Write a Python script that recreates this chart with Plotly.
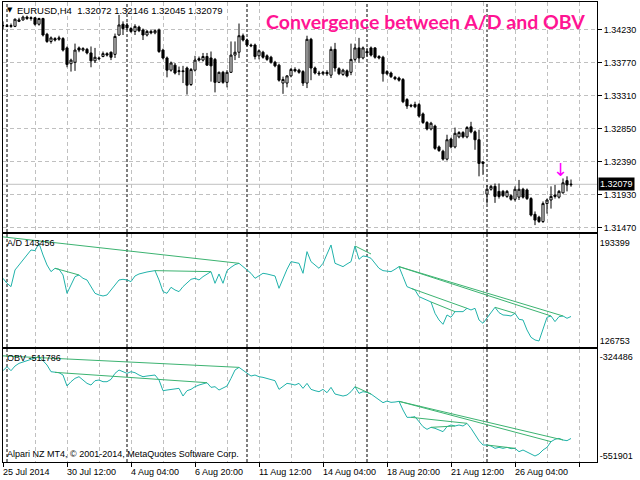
import plotly.graph_objects as go

# EURUSD H4 candles, one entry per bar (bar 0 = left edge of the chart)
opens = [
    1.3429, 1.3429, 1.3428, 1.3428, 1.3435, 1.3437, 1.3441, 1.3439, 1.3440, 1.3431,
    1.3439, 1.3417, 1.3407, 1.3411, 1.3410, 1.3411, 1.3398, 1.3376, 1.3378, 1.3398,
    1.3395, 1.3396, 1.3391, 1.3380, 1.3384, 1.3386, 1.3390, 1.3392, 1.3389, 1.3416,
    1.3431, 1.3430, 1.3425, 1.3421, 1.3427, 1.3423, 1.3416, 1.3421, 1.3419, 1.3423,
    1.3395, 1.3384, 1.3367, 1.3374, 1.3365, 1.3366, 1.3370, 1.3347, 1.3367, 1.3383,
    1.3381, 1.3386, 1.3384, 1.3382, 1.3350, 1.3364, 1.3350, 1.3364, 1.3388, 1.3392,
    1.3415, 1.3409, 1.3402, 1.3402, 1.3387, 1.3392, 1.3387, 1.3385, 1.3378, 1.3374,
    1.3349, 1.3349, 1.3359, 1.3368, 1.3367, 1.3365, 1.3349, 1.3410, 1.3370, 1.3363,
    1.3362, 1.3364, 1.3360, 1.3396, 1.3369, 1.3361, 1.3366, 1.3364, 1.3382, 1.3398,
    1.3384, 1.3393, 1.3398, 1.3398, 1.3386, 1.3385, 1.3365, 1.3363, 1.3357, 1.3356,
    1.3354, 1.3326, 1.3318, 1.3319, 1.3319, 1.3306, 1.3294, 1.3285, 1.3289, 1.3260,
    1.3254, 1.3243, 1.3271, 1.3260, 1.3274, 1.3280, 1.3274, 1.3288, 1.3281, 1.3270,
    1.3239, 1.3194, 1.3201, 1.3205, 1.3198, 1.3198, 1.3191, 1.3192, 1.3187, 1.3190,
    1.3201, 1.3200, 1.3188, 1.3166, 1.3162, 1.3156, 1.3181, 1.3186, 1.3193, 1.3190,
    1.3196, 1.3213, 1.32072,
]
highs = [
    1.3435, 1.3431, 1.3432, 1.3439, 1.3440, 1.3443, 1.3443, 1.3442, 1.3441, 1.3440,
    1.3440, 1.3419, 1.3414, 1.3413, 1.3415, 1.3413, 1.3400, 1.3383, 1.3404, 1.3400,
    1.3399, 1.3398, 1.3400, 1.3398, 1.3386, 1.3393, 1.3392, 1.3393, 1.3418, 1.3444,
    1.3435, 1.3433, 1.3427, 1.3431, 1.3429, 1.3425, 1.3423, 1.3423, 1.3424, 1.3425,
    1.3397, 1.3386, 1.3379, 1.3377, 1.3372, 1.3373, 1.3372, 1.3370, 1.3387, 1.3386,
    1.3391, 1.3391, 1.3393, 1.3384, 1.3365, 1.3366, 1.3367, 1.3407, 1.3407, 1.3432,
    1.3418, 1.3411, 1.3404, 1.3404, 1.3396, 1.3394, 1.3389, 1.3387, 1.3380, 1.3376,
    1.3358, 1.3360, 1.3370, 1.3371, 1.3369, 1.3367, 1.3415, 1.3412, 1.3372, 1.3366,
    1.3366, 1.3367, 1.3400, 1.3405, 1.3371, 1.3369, 1.3368, 1.3404, 1.3404, 1.3412,
    1.3400, 1.3398, 1.3400, 1.3399, 1.3388, 1.3387, 1.3367, 1.3365, 1.3359, 1.3358,
    1.3356, 1.3328, 1.3320, 1.3323, 1.3321, 1.3308, 1.3296, 1.3295, 1.3291, 1.3262,
    1.3256, 1.3277, 1.3273, 1.3287, 1.3282, 1.3282, 1.3289, 1.3295, 1.3283, 1.3284,
    1.3240, 1.3207, 1.3207, 1.3209, 1.3209, 1.3200, 1.3200, 1.3194, 1.3205, 1.3214,
    1.3203, 1.3202, 1.3190, 1.3170, 1.3164, 1.3184, 1.3188, 1.3205, 1.3207, 1.3200,
    1.3216, 1.3219, 1.32146,
]
lows = [
    1.3424, 1.3427, 1.3426, 1.3427, 1.3434, 1.3436, 1.3437, 1.3436, 1.3429, 1.3429,
    1.3414, 1.3405, 1.3404, 1.3407, 1.3408, 1.3393, 1.3371, 1.3365, 1.3366, 1.3392,
    1.3393, 1.3389, 1.3371, 1.3377, 1.3381, 1.3385, 1.3386, 1.3381, 1.3384, 1.3415,
    1.3416, 1.3423, 1.3419, 1.3416, 1.3420, 1.3409, 1.3414, 1.3417, 1.3417, 1.3391,
    1.3382, 1.3357, 1.3365, 1.3361, 1.3360, 1.3349, 1.3333, 1.3345, 1.3365, 1.3379,
    1.3379, 1.3373, 1.3351, 1.3336, 1.3349, 1.3348, 1.3343, 1.3363, 1.3381, 1.3384,
    1.3407, 1.3400, 1.3399, 1.3382, 1.3382, 1.3383, 1.3380, 1.3376, 1.3371, 1.3351,
    1.3334, 1.3343, 1.3357, 1.3364, 1.3362, 1.3345, 1.3342, 1.3353, 1.3361, 1.3359,
    1.3360, 1.3359, 1.3356, 1.3365, 1.3360, 1.3359, 1.3357, 1.3360, 1.3379, 1.3377,
    1.3382, 1.3386, 1.3386, 1.3383, 1.3382, 1.3351, 1.3360, 1.3356, 1.3353, 1.3351,
    1.3321, 1.3313, 1.3315, 1.3314, 1.3301, 1.3292, 1.3283, 1.3283, 1.3256, 1.3253,
    1.3241, 1.3241, 1.3258, 1.3258, 1.3272, 1.3272, 1.3272, 1.3279, 1.3256, 1.3219,
    1.3221, 1.3181, 1.3199, 1.3182, 1.3188, 1.3190, 1.3189, 1.3185, 1.3184, 1.3186,
    1.3188, 1.3186, 1.3163, 1.3151, 1.3154, 1.3154, 1.3167, 1.3174, 1.3188, 1.3188,
    1.3195, 1.3198, 1.32045,
]
closes = [
    1.3429, 1.3428, 1.3429, 1.3438, 1.3437, 1.3441, 1.3439, 1.3440, 1.3431, 1.3439,
    1.3416, 1.3407, 1.3412, 1.3409, 1.3412, 1.3395, 1.3375, 1.3381, 1.3395, 1.3395,
    1.3397, 1.3391, 1.3380, 1.3385, 1.3383, 1.3390, 1.3388, 1.3385, 1.3414, 1.3430,
    1.3425, 1.3426, 1.3421, 1.3428, 1.3422, 1.3416, 1.3421, 1.3419, 1.3422, 1.3393,
    1.3384, 1.3367, 1.3377, 1.3363, 1.3366, 1.3365, 1.3346, 1.3368, 1.3381, 1.3381,
    1.3386, 1.3374, 1.3373, 1.3350, 1.3364, 1.3350, 1.3364, 1.3388, 1.3392, 1.3415,
    1.3409, 1.3402, 1.3401, 1.3386, 1.3394, 1.3385, 1.3382, 1.3378, 1.3373, 1.3353,
    1.3354, 1.3359, 1.3368, 1.3366, 1.3364, 1.3349, 1.3410, 1.3370, 1.3363, 1.3362,
    1.3364, 1.3362, 1.3396, 1.3370, 1.3362, 1.3367, 1.3359, 1.3382, 1.3398, 1.3384,
    1.3398, 1.3391, 1.3388, 1.3385, 1.3384, 1.3362, 1.3362, 1.3358, 1.3355, 1.3353,
    1.3323, 1.3317, 1.3317, 1.3316, 1.3303, 1.3294, 1.3285, 1.3293, 1.3258, 1.3255,
    1.3243, 1.3270, 1.3260, 1.3279, 1.3280, 1.3274, 1.3287, 1.3281, 1.3270, 1.3237,
    1.3237, 1.3201, 1.3205, 1.3191, 1.3191, 1.3192, 1.3198, 1.3187, 1.3201, 1.3201,
    1.3190, 1.3188, 1.3165, 1.3158, 1.3156, 1.3181, 1.3186, 1.3191, 1.3191, 1.3198,
    1.3210, 1.3207, 1.32079,
]

# Accumulation/Distribution
ad_values = [
    169516, 166104, 163829, 175202, 178614, 182025, 185437, 188849, 188394, 193399,
    185437, 178614, 174065, 176339, 175657, 171790, 159280, 164967, 170653, 171790,
    169516, 168378, 163829, 159280, 158142, 157460, 158142, 161554, 164967, 168378,
    168833, 168378, 167241, 171108, 172472, 173382, 173837, 174292, 174747, 168378,
    160417, 159280, 163374, 161554, 160417, 163829, 166559, 168833, 169516, 168378,
    170653, 172472, 174065, 166104, 172472, 166104, 174747, 177022, 178841, 179751,
    177477, 175202, 172927, 169516, 171108, 172927, 172472, 172018, 171108, 162692,
    169516, 175657, 180888, 180433, 179751, 172927, 187712, 180888, 178614, 176339,
    179751, 186575, 192262, 179751, 178614, 177477, 179296, 180888, 191579, 182480,
    184755, 184300, 183163, 179751, 176339, 174747, 174519, 174065, 175657, 177477,
    170653, 163829, 162692, 161554, 157005, 155868, 154730, 153365, 145632, 141082,
    138125, 144495, 142902, 146769, 146769, 146769, 149044, 147907, 149044, 141082,
    138808, 142220, 145632, 149726, 146087, 144495, 144267, 143812, 145632, 141537,
    141082, 134259, 129255, 127435, 126753, 134259, 142902, 143812, 139945, 143357,
    143812, 142220, 143456,
]

# On Balance Volume
obv_values = [
    -356536, -347379, -356536, -345853, -339748, -335933, -333643, -330591, -328302, -324486,
    -333643, -343564, -358826, -360352, -361115, -366457, -391639, -381719, -374088, -370272,
    -377903, -385534, -389350, -379429, -377903, -381719, -381719, -376377, -362641, -355010,
    -358826, -362641, -358826, -361115, -366457, -370272, -368746, -367220, -366457, -377903,
    -402322, -400796, -399270, -397744, -396981, -414532, -402322, -399270, -393165, -389350,
    -387060, -384008, -394691, -393165, -400796, -396218, -391639, -374088, -355010, -348905,
    -355010, -362641, -368746, -366457, -370272, -371798, -374088, -376377, -379429, -399270,
    -391639, -385534, -387060, -389350, -385534, -396981, -385534, -399270, -402322, -404612,
    -399270, -406901, -394691, -409953, -412243, -414532, -412243, -404612, -393165, -408427,
    -404612, -406138, -409953, -416058, -422163, -429794, -425979, -429032, -428268, -426741,
    -446582, -463370, -463370, -461844, -473290, -484737, -490841, -486263, -488552, -492368,
    -496183, -484737, -480921, -483210, -480921, -483210, -477106, -488552, -503814, -516787,
    -526708, -526708, -528997, -534339, -532050, -534339, -532050, -535102, -534339, -541970,
    -538155, -541970, -547312, -551901, -547312, -538155, -532050, -519077, -513735, -511446,
    -515261, -516787, -511786,
]

# trend lines drawn by the convergence indicator: (bar0, value0, bar1, value1)
ad_lines = [
    (0, 197770, 59, 179751),
    (13, 176339, 19, 171790),
    (38, 174747, 52, 174065),
    (88, 191579, 92, 186120),
    (99, 177477, 137, 143812),
    (99, 177477, 140, 143812),
    (102, 162692, 116, 149044),
    (107, 153365, 113, 146769),
    (123, 149726, 128, 145632),
]
obv_lines = [
    (0, -322580, 59, -348905),
    (13, -360352, 51, -384008),
    (88, -393165, 92, -409953),
    (99, -426741, 137, -519077),
    (99, -426741, 140, -515261),
    (102, -463370, 116, -477106),
    (107, -486263, 113, -483210),
    (121, -526708, 128, -534339),
]

price_levels = [1.34230, 1.33770, 1.33310, 1.32850, 1.32390, 1.31930, 1.31470]
week_start_bars = [1, 31, 61, 91, 121]
time_tick_bars = [0, 16, 32, 48, 64, 80, 96, 112, 128]
time_tick_labels = ['25 Jul 2014', '30 Jul 12:00', '4 Aug 04:00', '6 Aug 20:00', '11 Aug 12:00',
                    '14 Aug 04:00', '18 Aug 20:00', '21 Aug 12:00', '26 Aug 04:00']
signal_bar = 139.4
signal_price = 1.3228

W, H = 640, 480
FONT = 'Liberation Sans'
GRID = '#C0C0C0'
DASH = '4px,3px'


def px_x(p):
    return p / W


def px_y(p):
    return 1 - p / H


def xaxis_common(anchor):
    return dict(domain=[px_x(3), px_x(597)], anchor=anchor, range=[0, 148.5],
                showline=True, mirror=True, linecolor='black', linewidth=1,
                tickmode='linear', tick0=0, dtick=16,
                showgrid=True, gridcolor=GRID, griddash=DASH, gridwidth=1,
                minor=dict(tick0=0, dtick=8, showgrid=True, gridcolor=GRID, griddash=DASH, gridwidth=1),
                showticklabels=False, ticks='', zeroline=False, fixedrange=True)


def yaxis_common(domain, rng):
    return dict(domain=domain, range=rng, side='right', anchor='x',
                showline=True, mirror=True, linecolor='black', linewidth=1,
                zeroline=False, fixedrange=True,
                tickfont=dict(family=FONT, size=9, color='black'))


def label(x, y, text, font, xanchor='left', **kw):
    # paper-positioned text, anchors set explicitly (auto anchoring shifts them near the edges)
    d = dict(x=x, y=y, xref='paper', yref='paper', text=text, showarrow=False,
             xanchor=xanchor, yanchor='middle', font=font)
    d.update(kw)
    return d


def main():
    bars = list(range(len(closes)))
    fig = go.Figure()

    fig.add_trace(go.Candlestick(x=bars, open=opens, high=highs, low=lows, close=closes,
                                 xaxis='x', yaxis='y', whiskerwidth=0,
                                 increasing=dict(line=dict(color='black', width=1), fillcolor='white'),
                                 decreasing=dict(line=dict(color='black', width=1), fillcolor='black'),
                                 hoverinfo='skip'))

    fig.add_trace(go.Scatter(x=bars, y=ad_values, xaxis='x2', yaxis='y2', mode='lines',
                             line=dict(color='#20B2AA', width=1)))
    for x0, y0, x1, y1 in ad_lines:
        fig.add_trace(go.Scatter(x=[x0, x1], y=[y0, y1], xaxis='x2', yaxis='y2', mode='lines',
                                 line=dict(color='#3CB371', width=1)))

    fig.add_trace(go.Scatter(x=bars, y=obv_values, xaxis='x3', yaxis='y3', mode='lines',
                             line=dict(color='#20B2AA', width=1)))
    for x0, y0, x1, y1 in obv_lines:
        fig.add_trace(go.Scatter(x=[x0, x1], y=[y0, y1], xaxis='x3', yaxis='y3', mode='lines',
                                 line=dict(color='#3CB371', width=1)))

    xa = xaxis_common('y')
    xa['rangeslider'] = dict(visible=False)
    xa2 = xaxis_common('y2')
    xa3 = xaxis_common('y3')
    xa3.update(ticks='outside', ticklen=4, tickcolor='black', tickwidth=1)

    ya = yaxis_common([px_y(232), px_y(2)], [1.31414, 1.34620])
    ya.update(tickvals=price_levels, ticktext=['%.5f' % v for v in price_levels],
              ticks='outside', ticklen=4, tickcolor='black',
              showgrid=True, gridcolor=GRID, griddash=DASH)
    ya2 = yaxis_common([px_y(346.5), px_y(234)], [122976, 199745])
    ya2.update(anchor='x2', tickvals=[max(ad_values), min(ad_values)],
               ticktext=[str(max(ad_values)), str(min(ad_values))], ticks='', showgrid=False)
    ya3 = yaxis_common([px_y(462), px_y(349)], [-565637, -306858])
    ya3.update(anchor='x3', tickvals=[max(obv_values), min(obv_values)],
               ticktext=[str(max(obv_values)), str(min(obv_values))], ticks='', showgrid=False)

    shapes = []
    # weekly separators
    for b in week_start_bars:
        shapes.append(dict(type='line', xref='x', yref='paper', x0=b, x1=b,
                           y0=px_y(462), y1=px_y(2), layer='below',
                           line=dict(color='black', width=1, dash='3px,2px')))
    # bid line
    shapes.append(dict(type='line', xref='paper', yref='y', x0=px_x(3), x1=px_x(597),
                       y0=closes[-1], y1=closes[-1], layer='below',
                       line=dict(color=GRID, width=1)))

    small = dict(family=FONT, size=9, color='black')
    ann = []
    ann.append(label(px_x(9.5), px_y(10), '▼', dict(family='DejaVu Sans', size=7, color='black'),
                     xanchor='center'))
    header = 'EURUSD,H4  %.5f %.5f %.5f %.5f' % (opens[-1], highs[-1], lows[-1], closes[-1])
    ann.append(label(px_x(15), px_y(10), header, dict(family=FONT, size=9.5, color='black')))
    ann.append(label(px_x(587), px_y(22), 'Convergence between A/D and OBV',
                     dict(family='Lato', size=19.5, color='#FF1493', weight='bold'), xanchor='right'))
    ann.append(dict(x=signal_bar, y=signal_price, xref='x', yref='y', text='↓', showarrow=False,
                    xanchor='center', yanchor='middle',
                    font=dict(family='DejaVu Sans', size=18, color='#FF00FF')))
    ann.append(dict(x=px_x(598), y=closes[-1], xref='paper', yref='y', text='%.5f' % closes[-1],
                    showarrow=False, xanchor='left', yanchor='middle', bgcolor='black', borderpad=1,
                    font=dict(family=FONT, size=9, color='white')))
    ann.append(label(px_x(5), px_y(242.5), 'A/D %d' % ad_values[-1], small))
    ann.append(label(px_x(5), px_y(358), 'OBV %d' % obv_values[-1], small))
    ann.append(label(px_x(5), px_y(454), 'Alpari NZ MT4, © 2001-2014, MetaQuotes Software Corp.', small))
    for b, txt in zip(time_tick_bars, time_tick_labels):
        ann.append(dict(x=b, y=px_y(465), xref='x3', yref='paper', text=txt, showarrow=False,
                        xanchor='left', yanchor='top', xshift=-2, font=small))

    fig.update_layout(width=W, height=H, autosize=False,
                      margin=dict(l=0, r=0, t=0, b=0),
                      paper_bgcolor='white', plot_bgcolor='rgba(0,0,0,0)',
                      showlegend=False, hovermode=False, boxgap=0.25,
                      xaxis=xa, xaxis2=xa2, xaxis3=xa3,
                      yaxis=ya, yaxis2=ya2, yaxis3=ya3,
                      shapes=shapes, annotations=ann)

    # the page body has a default 8px margin; drop it so the chart fills the window
    fig.write_html('out.html', config={'displayModeBar': False},
                   post_script="document.body.style.margin='0';")


if __name__ == '__main__':
    main()
